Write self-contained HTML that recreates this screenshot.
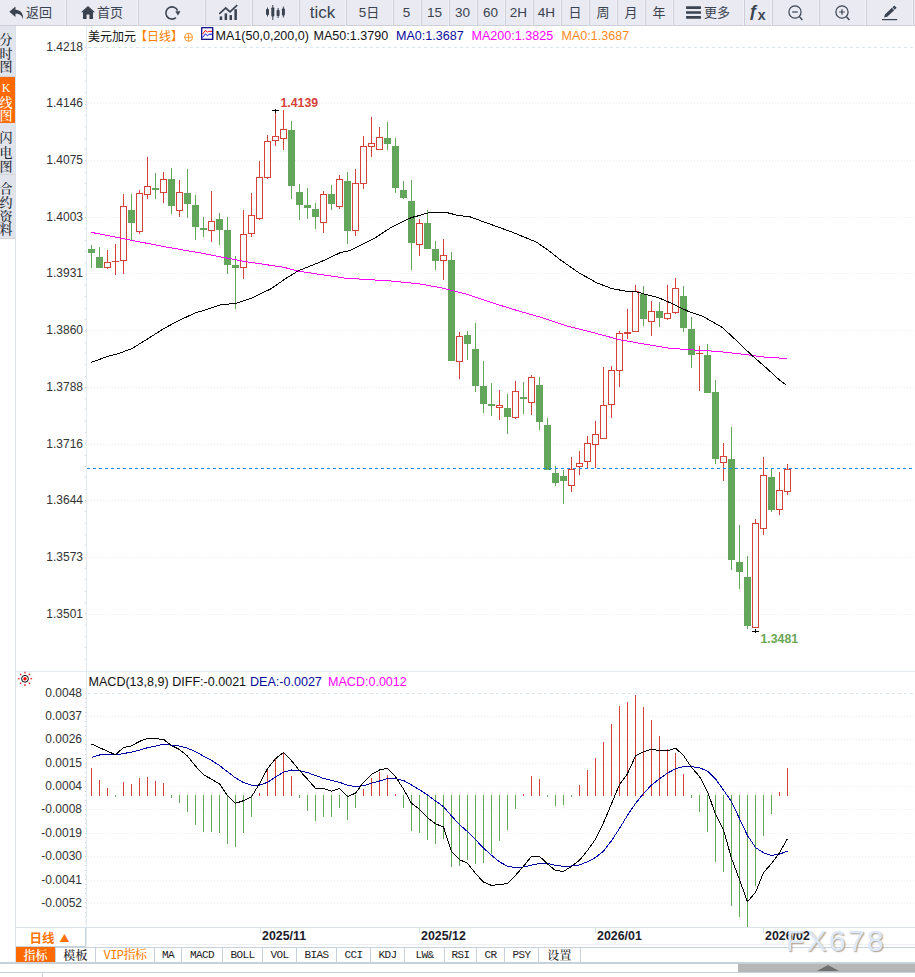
<!DOCTYPE html>
<html lang="zh"><head><meta charset="utf-8"><title>美元加元 日线</title>
<style>
html,body{margin:0;padding:0;background:#fff;}
body{width:915px;height:977px;position:relative;overflow:hidden;font-family:"Liberation Sans","Noto Sans CJK SC",sans-serif;}
#tb{position:absolute;left:0;top:0;width:915px;height:26px;background:#fff;overflow:hidden}
#tb .b{position:absolute;top:0;height:25px;padding-top:0;padding-bottom:0;background:#e9eaf2;border-left:1px solid #cdced8;border-right:1px solid #f1f2f7;border-bottom:1px solid #cdced8;display:flex;align-items:center;justify-content:center;color:#3b4350;font-size:13px;white-space:nowrap;box-sizing:content-box}
#tb .cj{font-family:"Noto Sans CJK SC",sans-serif;font-size:13px;line-height:24px;margin-left:1px;position:relative;top:-0.4px;left:-0.5px}
#tb .nm{font-size:13.5px;line-height:24px;position:relative;top:0px;left:-0.5px}
#tb .tk{font-size:17px;line-height:24px;position:relative;top:0.6px}
#tb .fx{font-family:"Liberation Sans",sans-serif;font-style:normal;font-weight:bold;font-size:17px;line-height:24px;position:relative;top:-0.5px;left:-0.5px}
#tb .fxx{font-family:"Liberation Sans",sans-serif;font-style:normal;font-weight:bold;font-size:14px;position:relative;top:2.5px;left:-0.5px}
#tb svg{display:block}
#sb{position:absolute;left:0;top:26px;width:15px;height:213px;background:#e2e4ec}
#sb .s{position:absolute;left:0;width:15px;top:0;border-bottom:1px solid #d2d4dc;box-sizing:border-box;color:#20242e;overflow:hidden;font-weight:500}
#sb .s i{position:absolute;left:-1.5px;width:15px;text-align:center;font-style:normal;font-size:13px;line-height:14px;font-family:"Noto Serif CJK SC",serif}
#sb .s i.k{font-family:"Liberation Serif",serif;font-size:12px}
#sb .on{background:#ff6a00;color:#fff;border-bottom:none}
#sb .s{margin-top:-26px}
#sbl{position:absolute;left:15px;top:26px;width:1px;height:937px;background:#dbe2ea}
#lg span,#ml span{position:absolute;white-space:nowrap;font-size:12.55px;line-height:16px}
#lg{position:absolute;left:0;top:28.2px;height:16px;width:915px}
#lg .cjl{font-family:"Noto Sans CJK SC",sans-serif;font-size:12px}
#ml{position:absolute;left:0;top:673.5px;height:16px;width:915px}
#chart{position:absolute;left:0;top:0}
#chart text.ax{font-family:"Liberation Sans",sans-serif;font-size:12px;fill:#333}
#chart text.hl{font-family:"Liberation Sans",sans-serif;font-size:12.3px;font-weight:bold}
#chart text.dt{font-family:"Liberation Sans",sans-serif;font-size:12.4px;font-weight:bold;fill:#1c1c2c}
#pd{position:absolute;left:16px;top:928px;width:69px;height:18px;border-right:1px solid #c8d2dc;border-bottom:1px solid #c8d2dc;background:#fff;color:#ff7200;font-weight:bold;font-size:12.5px;line-height:20px;text-align:left;text-indent:13.5px;font-family:"Noto Sans CJK SC",sans-serif}
#pd b{font-size:10px;position:relative;top:-1px;margin-left:5px}
.hl1{position:absolute;background:#dbe2ea;height:1px}
#bt{position:absolute;left:0;top:947px;width:915px;height:15px}
#bt .t{position:absolute;top:0;height:15px;border-right:1px solid #c8d2dc;text-align:center;font-size:11px;line-height:16px;color:#222;white-space:nowrap}
#bt .m{font-family:"Liberation Mono",monospace;font-size:11px;letter-spacing:-0.6px}
#bt .cj2{font-family:"Noto Serif CJK SC",serif;font-size:12px;line-height:16px;letter-spacing:0.3px;font-weight:500}
#bt .on{background:#ff6a00;color:#fff;font-family:"Noto Serif CJK SC",serif;font-size:12px;line-height:16px;font-weight:600}
#bt .vip{color:#ff7d00;font-family:"Liberation Mono","Noto Serif CJK SC",monospace;font-size:12px;line-height:18px;letter-spacing:-0.5px;font-weight:500}
#wm{position:absolute;left:786px;top:923px;font-size:30px;line-height:36px;letter-spacing:2.3px;color:#dce8f8;text-shadow:1px 1px 1.2px rgba(120,95,70,.6);font-family:"Liberation Sans",sans-serif}
#scr{position:absolute;left:738px;top:964px;width:177px;height:8px;background:#b6b6b9}
#scr:after{content:"";position:absolute;left:79px;top:1px;border-left:11.5px solid transparent;border-right:11.5px solid transparent;border-bottom:6.5px solid #707072}
</style></head><body>
<div id="tb">
<div class="b" style="left:0px;width:65px;border-left:none"><span style="display:flex;align-items:center;position:relative;left:-1.5px"><svg width="16.2" height="14" viewBox="0 0 15 13" style="position:relative;left:-0.5px"><path d="M6 0.5 L0.3 5.4 L6 10.3 V7.2 C9.6 7.1 11.8 8.3 13 12.2 C13.6 6.8 10.6 3.6 6 3.5 Z" fill="#3b4350"/></svg><span class="cj">返回</span></span></div>
<div class="b" style="left:66px;width:70px"><svg width="14" height="13" viewBox="0 0 14 13" style="position:relative;left:0.6px"><path d="M7 0 L0 6.3 H2 V13 H5.6 V8.6 H8.4 V13 H12 V6.3 H14 Z" fill="#3b4350"/></svg><span class="cj" style="margin-left:3px">首页</span></div>
<div class="b" style="left:138px;width:65px"><svg width="18" height="16" viewBox="0 0 18 16" style="position:relative;top:0.6px;left:0.6px"><path d="M12.9 12.7 A6.1 6.1 0 1 1 14.6 5.6" fill="none" stroke="#3b4350" stroke-width="1.6"/><path d="M12.3 6.2 L17.5 6.2 L14.9 10.6 Z" fill="#3b4350"/></svg></div>
<div class="b" style="left:205px;width:45px"><svg width="19" height="16" viewBox="0 0 19 16" style="position:relative;top:-1px"><path d="M0.3 10 L6.7 4 L11 7.8 L18.2 1.2" fill="none" stroke="#3b4350" stroke-width="1.7"/><rect x="0.7" y="12.4" width="2.5" height="3.6" fill="#3b4350"/><rect x="5.6" y="9.4" width="2.5" height="6.6" fill="#3b4350"/><rect x="10.5" y="11.1" width="2.5" height="4.9" fill="#3b4350"/><rect x="15.4" y="5.2" width="2.5" height="10.8" fill="#3b4350"/></svg></div>
<div class="b" style="left:252px;width:45px"><svg width="21" height="15" viewBox="0 0 21 15"><g fill="#3b4350"><rect x="1" y="4" width="3" height="6" rx="0.8"/><rect x="2" y="2.5" width="1" height="9"/><rect x="6.3" y="2.5" width="3" height="9" rx="0.8"/><rect x="7.3" y="0" width="1" height="15"/><rect x="11.6" y="5" width="3" height="6" rx="0.8"/><rect x="12.6" y="3" width="1" height="10"/><rect x="16.9" y="3.5" width="3" height="7" rx="0.8"/><rect x="17.9" y="1.5" width="1" height="11"/></g></svg></div>
<div class="b" style="left:299px;width:45px"><span class="tk">tick</span></div>
<div class="b" style="left:346px;width:45px"><span class="nm">5</span><span class="cj" style="margin-left:0">日</span></div>
<div class="b" style="left:393px;width:26px"><span class="nm">5</span></div>
<div class="b" style="left:421px;width:26px"><span class="nm">15</span></div>
<div class="b" style="left:449px;width:26px"><span class="nm">30</span></div>
<div class="b" style="left:477px;width:26px"><span class="nm">60</span></div>
<div class="b" style="left:505px;width:26px"><span class="nm">2H</span></div>
<div class="b" style="left:533px;width:26px"><span class="nm">4H</span></div>
<div class="b" style="left:561px;width:26px"><span class="cj">日</span></div>
<div class="b" style="left:589px;width:26px"><span class="cj">周</span></div>
<div class="b" style="left:617px;width:26px"><span class="cj">月</span></div>
<div class="b" style="left:645px;width:26px"><span class="cj">年</span></div>
<div class="b" style="left:673px;width:69px"><svg width="15" height="13" viewBox="0 0 15 13"><g fill="#3b4350"><rect x="0" y="0.3" width="15" height="2.6" rx="0.6"/><rect x="0" y="5.2" width="15" height="2.6" rx="0.6"/><rect x="0" y="10.1" width="15" height="2.6" rx="0.6"/></g></svg><span class="cj" style="margin-left:3px">更多</span></div>
<div class="b" style="left:744px;width:26px"><span class="fx">ƒ<span class="fxx">x</span></span></div>
<div class="b" style="left:772px;width:45px"><svg width="17" height="17" viewBox="0 0 17 17" style="position:relative;top:0.8px;left:1px"><circle cx="7" cy="7" r="6.1" fill="none" stroke="#3b4350" stroke-width="1.2"/><path d="M4.2 7H9.8" stroke="#3b4350" stroke-width="1.2" fill="none"/><path d="M11.4 11.6 L14.4 15" stroke="#3b4350" stroke-width="1.4"/></svg></div>
<div class="b" style="left:819px;width:45px"><svg width="17" height="17" viewBox="0 0 17 17" style="position:relative;top:0.8px;left:1px"><circle cx="7" cy="7" r="6.1" fill="none" stroke="#3b4350" stroke-width="1.2"/><path d="M4.2 7H9.8M7 4.2V9.8" stroke="#3b4350" stroke-width="1.2" fill="none"/><path d="M11.4 11.6 L14.4 15" stroke="#3b4350" stroke-width="1.4"/></svg></div>
<div class="b" style="left:866px;width:45px"><svg width="17" height="17" viewBox="0 0 17 17" style="position:relative;top:0px;left:1px"><path d="M2.1 13.5 L2.95 10.4 L9.9 3.8 L12.2 6.2 L5.2 12.8 Z M10.5 3.25 L12.4 1.45 L14.65 3.85 L12.75 5.65 Z" fill="#3b4350"/><rect x="0" y="15" width="15.2" height="1.2" fill="#3b4350"/></svg></div>
<div class="b" style="left:913px;width:45px"></div>
</div>
<div id="sb">
<div class="s" style="top:26px;height:51px"><i style="top:6px">分</i><i style="top:20px">时</i><i style="top:33px">图</i></div>
<div class="s on" style="top:77px;height:46px"><i style="top:4px" class="k">K</i><i style="top:18px">线</i><i style="top:31px">图</i></div>
<div class="s" style="top:123px;height:52px"><i style="top:7px">闪</i><i style="top:22px">电</i><i style="top:36px">图</i></div>
<div class="s" style="top:176px;height:63px"><i style="top:5px">合</i><i style="top:19px">约</i><i style="top:33px">资</i><i style="top:46px">料</i></div>
</div>
<div id="sbl"></div>
<svg id="chart" width="915" height="977" viewBox="0 0 915 977">
<line x1="88" x2="915" y1="47.5" y2="47.5" stroke="#d9e6f0" stroke-width="1" stroke-dasharray="3 3" shape-rendering="crispEdges"/>
<text x="83" y="50.9" class="ax" text-anchor="end">1.4218</text>
<line x1="88" x2="915" y1="103.5" y2="103.5" stroke="#ecedef" stroke-width="1" stroke-dasharray="1 2" shape-rendering="crispEdges"/>
<text x="83" y="106.9" class="ax" text-anchor="end">1.4146</text>
<line x1="88" x2="915" y1="160.5" y2="160.5" stroke="#ecedef" stroke-width="1" stroke-dasharray="1 2" shape-rendering="crispEdges"/>
<text x="83" y="163.9" class="ax" text-anchor="end">1.4075</text>
<line x1="88" x2="915" y1="217.5" y2="217.5" stroke="#ecedef" stroke-width="1" stroke-dasharray="1 2" shape-rendering="crispEdges"/>
<text x="83" y="220.9" class="ax" text-anchor="end">1.4003</text>
<line x1="88" x2="915" y1="273.5" y2="273.5" stroke="#ecedef" stroke-width="1" stroke-dasharray="1 2" shape-rendering="crispEdges"/>
<text x="83" y="276.9" class="ax" text-anchor="end">1.3931</text>
<line x1="88" x2="915" y1="330.5" y2="330.5" stroke="#ecedef" stroke-width="1" stroke-dasharray="1 2" shape-rendering="crispEdges"/>
<text x="83" y="333.9" class="ax" text-anchor="end">1.3860</text>
<line x1="88" x2="915" y1="387.5" y2="387.5" stroke="#ecedef" stroke-width="1" stroke-dasharray="1 2" shape-rendering="crispEdges"/>
<text x="83" y="390.9" class="ax" text-anchor="end">1.3788</text>
<line x1="88" x2="915" y1="444.5" y2="444.5" stroke="#ecedef" stroke-width="1" stroke-dasharray="1 2" shape-rendering="crispEdges"/>
<text x="83" y="447.9" class="ax" text-anchor="end">1.3716</text>
<line x1="88" x2="915" y1="500.5" y2="500.5" stroke="#ecedef" stroke-width="1" stroke-dasharray="1 2" shape-rendering="crispEdges"/>
<text x="83" y="503.9" class="ax" text-anchor="end">1.3644</text>
<line x1="88" x2="915" y1="557.5" y2="557.5" stroke="#ecedef" stroke-width="1" stroke-dasharray="1 2" shape-rendering="crispEdges"/>
<text x="83" y="560.9" class="ax" text-anchor="end">1.3573</text>
<line x1="88" x2="915" y1="614.5" y2="614.5" stroke="#ecedef" stroke-width="1" stroke-dasharray="1 2" shape-rendering="crispEdges"/>
<text x="83" y="617.9" class="ax" text-anchor="end">1.3501</text>
<line x1="86.5" x2="86.5" y1="26" y2="947" stroke="#e3e9f0" shape-rendering="crispEdges"/>
<line x1="85" x2="86" y1="47.5" y2="47.5" stroke="#cdd5df" shape-rendering="crispEdges"/>
<line x1="85" x2="86" y1="58.5" y2="58.5" stroke="#cdd5df" shape-rendering="crispEdges"/>
<line x1="85" x2="86" y1="70.5" y2="70.5" stroke="#cdd5df" shape-rendering="crispEdges"/>
<line x1="85" x2="86" y1="81.5" y2="81.5" stroke="#cdd5df" shape-rendering="crispEdges"/>
<line x1="85" x2="86" y1="92.5" y2="92.5" stroke="#cdd5df" shape-rendering="crispEdges"/>
<line x1="85" x2="86" y1="104.5" y2="104.5" stroke="#cdd5df" shape-rendering="crispEdges"/>
<line x1="85" x2="86" y1="115.5" y2="115.5" stroke="#cdd5df" shape-rendering="crispEdges"/>
<line x1="85" x2="86" y1="126.5" y2="126.5" stroke="#cdd5df" shape-rendering="crispEdges"/>
<line x1="85" x2="86" y1="138.5" y2="138.5" stroke="#cdd5df" shape-rendering="crispEdges"/>
<line x1="85" x2="86" y1="149.5" y2="149.5" stroke="#cdd5df" shape-rendering="crispEdges"/>
<line x1="85" x2="86" y1="160.5" y2="160.5" stroke="#cdd5df" shape-rendering="crispEdges"/>
<line x1="85" x2="86" y1="172.5" y2="172.5" stroke="#cdd5df" shape-rendering="crispEdges"/>
<line x1="85" x2="86" y1="183.5" y2="183.5" stroke="#cdd5df" shape-rendering="crispEdges"/>
<line x1="85" x2="86" y1="194.5" y2="194.5" stroke="#cdd5df" shape-rendering="crispEdges"/>
<line x1="85" x2="86" y1="206.5" y2="206.5" stroke="#cdd5df" shape-rendering="crispEdges"/>
<line x1="85" x2="86" y1="217.5" y2="217.5" stroke="#cdd5df" shape-rendering="crispEdges"/>
<line x1="85" x2="86" y1="228.5" y2="228.5" stroke="#cdd5df" shape-rendering="crispEdges"/>
<line x1="85" x2="86" y1="240.5" y2="240.5" stroke="#cdd5df" shape-rendering="crispEdges"/>
<line x1="85" x2="86" y1="251.5" y2="251.5" stroke="#cdd5df" shape-rendering="crispEdges"/>
<line x1="85" x2="86" y1="262.5" y2="262.5" stroke="#cdd5df" shape-rendering="crispEdges"/>
<line x1="85" x2="86" y1="274.5" y2="274.5" stroke="#cdd5df" shape-rendering="crispEdges"/>
<line x1="85" x2="86" y1="285.5" y2="285.5" stroke="#cdd5df" shape-rendering="crispEdges"/>
<line x1="85" x2="86" y1="296.5" y2="296.5" stroke="#cdd5df" shape-rendering="crispEdges"/>
<line x1="85" x2="86" y1="308.5" y2="308.5" stroke="#cdd5df" shape-rendering="crispEdges"/>
<line x1="85" x2="86" y1="319.5" y2="319.5" stroke="#cdd5df" shape-rendering="crispEdges"/>
<line x1="85" x2="86" y1="330.5" y2="330.5" stroke="#cdd5df" shape-rendering="crispEdges"/>
<line x1="85" x2="86" y1="342.5" y2="342.5" stroke="#cdd5df" shape-rendering="crispEdges"/>
<line x1="85" x2="86" y1="353.5" y2="353.5" stroke="#cdd5df" shape-rendering="crispEdges"/>
<line x1="85" x2="86" y1="364.5" y2="364.5" stroke="#cdd5df" shape-rendering="crispEdges"/>
<line x1="85" x2="86" y1="376.5" y2="376.5" stroke="#cdd5df" shape-rendering="crispEdges"/>
<line x1="85" x2="86" y1="387.5" y2="387.5" stroke="#cdd5df" shape-rendering="crispEdges"/>
<line x1="85" x2="86" y1="398.5" y2="398.5" stroke="#cdd5df" shape-rendering="crispEdges"/>
<line x1="85" x2="86" y1="409.5" y2="409.5" stroke="#cdd5df" shape-rendering="crispEdges"/>
<line x1="85" x2="86" y1="421.5" y2="421.5" stroke="#cdd5df" shape-rendering="crispEdges"/>
<line x1="85" x2="86" y1="432.5" y2="432.5" stroke="#cdd5df" shape-rendering="crispEdges"/>
<line x1="85" x2="86" y1="443.5" y2="443.5" stroke="#cdd5df" shape-rendering="crispEdges"/>
<line x1="85" x2="86" y1="455.5" y2="455.5" stroke="#cdd5df" shape-rendering="crispEdges"/>
<line x1="85" x2="86" y1="466.5" y2="466.5" stroke="#cdd5df" shape-rendering="crispEdges"/>
<line x1="85" x2="86" y1="477.5" y2="477.5" stroke="#cdd5df" shape-rendering="crispEdges"/>
<line x1="85" x2="86" y1="489.5" y2="489.5" stroke="#cdd5df" shape-rendering="crispEdges"/>
<line x1="85" x2="86" y1="500.5" y2="500.5" stroke="#cdd5df" shape-rendering="crispEdges"/>
<line x1="85" x2="86" y1="511.5" y2="511.5" stroke="#cdd5df" shape-rendering="crispEdges"/>
<line x1="85" x2="86" y1="523.5" y2="523.5" stroke="#cdd5df" shape-rendering="crispEdges"/>
<line x1="85" x2="86" y1="534.5" y2="534.5" stroke="#cdd5df" shape-rendering="crispEdges"/>
<line x1="85" x2="86" y1="545.5" y2="545.5" stroke="#cdd5df" shape-rendering="crispEdges"/>
<line x1="85" x2="86" y1="557.5" y2="557.5" stroke="#cdd5df" shape-rendering="crispEdges"/>
<line x1="85" x2="86" y1="568.5" y2="568.5" stroke="#cdd5df" shape-rendering="crispEdges"/>
<line x1="85" x2="86" y1="579.5" y2="579.5" stroke="#cdd5df" shape-rendering="crispEdges"/>
<line x1="85" x2="86" y1="591.5" y2="591.5" stroke="#cdd5df" shape-rendering="crispEdges"/>
<line x1="85" x2="86" y1="602.5" y2="602.5" stroke="#cdd5df" shape-rendering="crispEdges"/>
<line x1="85" x2="86" y1="613.5" y2="613.5" stroke="#cdd5df" shape-rendering="crispEdges"/>
<line x1="85" x2="86" y1="625.5" y2="625.5" stroke="#cdd5df" shape-rendering="crispEdges"/>
<line x1="85" x2="86" y1="636.5" y2="636.5" stroke="#cdd5df" shape-rendering="crispEdges"/>
<line x1="85" x2="86" y1="647.5" y2="647.5" stroke="#cdd5df" shape-rendering="crispEdges"/>
<line x1="85" x2="86" y1="659.5" y2="659.5" stroke="#cdd5df" shape-rendering="crispEdges"/>
<line x1="16" x2="915" y1="671.5" y2="671.5" stroke="#e3e9f0" shape-rendering="crispEdges"/>
<line x1="88" x2="915" y1="693.5" y2="693.5" stroke="#d9e6f0" stroke-width="1" stroke-dasharray="3 3" shape-rendering="crispEdges"/>
<text x="82" y="696.9" class="ax" text-anchor="end">0.0048</text>
<line x1="88" x2="915" y1="716.5" y2="716.5" stroke="#ecedef" stroke-width="1" stroke-dasharray="1 2" shape-rendering="crispEdges"/>
<text x="82" y="719.9" class="ax" text-anchor="end">0.0037</text>
<line x1="88" x2="915" y1="739.5" y2="739.5" stroke="#ecedef" stroke-width="1" stroke-dasharray="1 2" shape-rendering="crispEdges"/>
<text x="82" y="742.9" class="ax" text-anchor="end">0.0026</text>
<line x1="88" x2="915" y1="763.5" y2="763.5" stroke="#ecedef" stroke-width="1" stroke-dasharray="1 2" shape-rendering="crispEdges"/>
<text x="82" y="766.9" class="ax" text-anchor="end">0.0015</text>
<line x1="88" x2="915" y1="786.5" y2="786.5" stroke="#ecedef" stroke-width="1" stroke-dasharray="1 2" shape-rendering="crispEdges"/>
<text x="82" y="789.9" class="ax" text-anchor="end">0.0004</text>
<line x1="88" x2="915" y1="809.5" y2="809.5" stroke="#ecedef" stroke-width="1" stroke-dasharray="1 2" shape-rendering="crispEdges"/>
<text x="82" y="812.9" class="ax" text-anchor="end">-0.0008</text>
<line x1="88" x2="915" y1="833.5" y2="833.5" stroke="#ecedef" stroke-width="1" stroke-dasharray="1 2" shape-rendering="crispEdges"/>
<text x="82" y="836.9" class="ax" text-anchor="end">-0.0019</text>
<line x1="88" x2="915" y1="856.5" y2="856.5" stroke="#ecedef" stroke-width="1" stroke-dasharray="1 2" shape-rendering="crispEdges"/>
<text x="82" y="859.9" class="ax" text-anchor="end">-0.0030</text>
<line x1="88" x2="915" y1="880.5" y2="880.5" stroke="#ecedef" stroke-width="1" stroke-dasharray="1 2" shape-rendering="crispEdges"/>
<text x="82" y="883.9" class="ax" text-anchor="end">-0.0041</text>
<line x1="88" x2="915" y1="903.5" y2="903.5" stroke="#ecedef" stroke-width="1" stroke-dasharray="1 2" shape-rendering="crispEdges"/>
<text x="82" y="906.9" class="ax" text-anchor="end">-0.0052</text>
<line x1="85" x2="86" y1="693.5" y2="693.5" stroke="#cdd5df" shape-rendering="crispEdges"/>
<line x1="85" x2="86" y1="698.5" y2="698.5" stroke="#cdd5df" shape-rendering="crispEdges"/>
<line x1="85" x2="86" y1="702.5" y2="702.5" stroke="#cdd5df" shape-rendering="crispEdges"/>
<line x1="85" x2="86" y1="707.5" y2="707.5" stroke="#cdd5df" shape-rendering="crispEdges"/>
<line x1="85" x2="86" y1="712.5" y2="712.5" stroke="#cdd5df" shape-rendering="crispEdges"/>
<line x1="85" x2="86" y1="716.5" y2="716.5" stroke="#cdd5df" shape-rendering="crispEdges"/>
<line x1="85" x2="86" y1="721.5" y2="721.5" stroke="#cdd5df" shape-rendering="crispEdges"/>
<line x1="85" x2="86" y1="726.5" y2="726.5" stroke="#cdd5df" shape-rendering="crispEdges"/>
<line x1="85" x2="86" y1="730.5" y2="730.5" stroke="#cdd5df" shape-rendering="crispEdges"/>
<line x1="85" x2="86" y1="735.5" y2="735.5" stroke="#cdd5df" shape-rendering="crispEdges"/>
<line x1="85" x2="86" y1="740.5" y2="740.5" stroke="#cdd5df" shape-rendering="crispEdges"/>
<line x1="85" x2="86" y1="744.5" y2="744.5" stroke="#cdd5df" shape-rendering="crispEdges"/>
<line x1="85" x2="86" y1="749.5" y2="749.5" stroke="#cdd5df" shape-rendering="crispEdges"/>
<line x1="85" x2="86" y1="754.5" y2="754.5" stroke="#cdd5df" shape-rendering="crispEdges"/>
<line x1="85" x2="86" y1="758.5" y2="758.5" stroke="#cdd5df" shape-rendering="crispEdges"/>
<line x1="85" x2="86" y1="763.5" y2="763.5" stroke="#cdd5df" shape-rendering="crispEdges"/>
<line x1="85" x2="86" y1="767.5" y2="767.5" stroke="#cdd5df" shape-rendering="crispEdges"/>
<line x1="85" x2="86" y1="772.5" y2="772.5" stroke="#cdd5df" shape-rendering="crispEdges"/>
<line x1="85" x2="86" y1="777.5" y2="777.5" stroke="#cdd5df" shape-rendering="crispEdges"/>
<line x1="85" x2="86" y1="781.5" y2="781.5" stroke="#cdd5df" shape-rendering="crispEdges"/>
<line x1="85" x2="86" y1="786.5" y2="786.5" stroke="#cdd5df" shape-rendering="crispEdges"/>
<line x1="85" x2="86" y1="791.5" y2="791.5" stroke="#cdd5df" shape-rendering="crispEdges"/>
<line x1="85" x2="86" y1="795.5" y2="795.5" stroke="#cdd5df" shape-rendering="crispEdges"/>
<line x1="85" x2="86" y1="800.5" y2="800.5" stroke="#cdd5df" shape-rendering="crispEdges"/>
<line x1="85" x2="86" y1="805.5" y2="805.5" stroke="#cdd5df" shape-rendering="crispEdges"/>
<line x1="85" x2="86" y1="809.5" y2="809.5" stroke="#cdd5df" shape-rendering="crispEdges"/>
<line x1="85" x2="86" y1="814.5" y2="814.5" stroke="#cdd5df" shape-rendering="crispEdges"/>
<line x1="85" x2="86" y1="819.5" y2="819.5" stroke="#cdd5df" shape-rendering="crispEdges"/>
<line x1="85" x2="86" y1="823.5" y2="823.5" stroke="#cdd5df" shape-rendering="crispEdges"/>
<line x1="85" x2="86" y1="828.5" y2="828.5" stroke="#cdd5df" shape-rendering="crispEdges"/>
<line x1="85" x2="86" y1="833.5" y2="833.5" stroke="#cdd5df" shape-rendering="crispEdges"/>
<line x1="85" x2="86" y1="837.5" y2="837.5" stroke="#cdd5df" shape-rendering="crispEdges"/>
<line x1="85" x2="86" y1="842.5" y2="842.5" stroke="#cdd5df" shape-rendering="crispEdges"/>
<line x1="85" x2="86" y1="847.5" y2="847.5" stroke="#cdd5df" shape-rendering="crispEdges"/>
<line x1="85" x2="86" y1="851.5" y2="851.5" stroke="#cdd5df" shape-rendering="crispEdges"/>
<line x1="85" x2="86" y1="856.5" y2="856.5" stroke="#cdd5df" shape-rendering="crispEdges"/>
<line x1="85" x2="86" y1="861.5" y2="861.5" stroke="#cdd5df" shape-rendering="crispEdges"/>
<line x1="85" x2="86" y1="865.5" y2="865.5" stroke="#cdd5df" shape-rendering="crispEdges"/>
<line x1="85" x2="86" y1="870.5" y2="870.5" stroke="#cdd5df" shape-rendering="crispEdges"/>
<line x1="85" x2="86" y1="875.5" y2="875.5" stroke="#cdd5df" shape-rendering="crispEdges"/>
<line x1="85" x2="86" y1="879.5" y2="879.5" stroke="#cdd5df" shape-rendering="crispEdges"/>
<line x1="85" x2="86" y1="884.5" y2="884.5" stroke="#cdd5df" shape-rendering="crispEdges"/>
<line x1="85" x2="86" y1="888.5" y2="888.5" stroke="#cdd5df" shape-rendering="crispEdges"/>
<line x1="85" x2="86" y1="893.5" y2="893.5" stroke="#cdd5df" shape-rendering="crispEdges"/>
<line x1="85" x2="86" y1="898.5" y2="898.5" stroke="#cdd5df" shape-rendering="crispEdges"/>
<line x1="85" x2="86" y1="902.5" y2="902.5" stroke="#cdd5df" shape-rendering="crispEdges"/>
<line x1="85" x2="86" y1="907.5" y2="907.5" stroke="#cdd5df" shape-rendering="crispEdges"/>
<line x1="85" x2="86" y1="912.5" y2="912.5" stroke="#cdd5df" shape-rendering="crispEdges"/>
<line x1="85" x2="86" y1="916.5" y2="916.5" stroke="#cdd5df" shape-rendering="crispEdges"/>
<line x1="85" x2="86" y1="921.5" y2="921.5" stroke="#cdd5df" shape-rendering="crispEdges"/>
<line x1="91.5" x2="91.5" y1="245" y2="268" stroke="#63a55b" shape-rendering="crispEdges"/>
<rect x="88.0" y="249" width="7" height="4" fill="#63a55b" shape-rendering="crispEdges"/>
<line x1="99.5" x2="99.5" y1="247" y2="268" stroke="#63a55b" shape-rendering="crispEdges"/>
<rect x="96.0" y="257" width="7" height="11" fill="#63a55b" shape-rendering="crispEdges"/>
<line x1="107.5" x2="107.5" y1="250" y2="262" stroke="#d6423a" shape-rendering="crispEdges"/>
<line x1="107.5" x2="107.5" y1="268" y2="269" stroke="#d6423a" shape-rendering="crispEdges"/>
<rect x="104.5" y="262.5" width="6" height="5" fill="#fff" stroke="#d6423a" stroke-width="1" shape-rendering="crispEdges"/>
<line x1="115.5" x2="115.5" y1="244" y2="261" stroke="#d6423a" shape-rendering="crispEdges"/>
<line x1="115.5" x2="115.5" y1="262" y2="275" stroke="#d6423a" shape-rendering="crispEdges"/>
<rect x="112.0" y="261" width="7" height="1" fill="#d6423a" shape-rendering="crispEdges"/>
<line x1="123.5" x2="123.5" y1="194" y2="206" stroke="#d6423a" shape-rendering="crispEdges"/>
<line x1="123.5" x2="123.5" y1="261" y2="274" stroke="#d6423a" shape-rendering="crispEdges"/>
<rect x="120.5" y="206.5" width="6" height="54" fill="#fff" stroke="#d6423a" stroke-width="1" shape-rendering="crispEdges"/>
<line x1="131.5" x2="131.5" y1="194" y2="240" stroke="#63a55b" shape-rendering="crispEdges"/>
<rect x="128.0" y="210" width="7" height="13" fill="#63a55b" shape-rendering="crispEdges"/>
<line x1="139.5" x2="139.5" y1="190" y2="193" stroke="#d6423a" shape-rendering="crispEdges"/>
<line x1="139.5" x2="139.5" y1="232" y2="234" stroke="#d6423a" shape-rendering="crispEdges"/>
<rect x="136.5" y="193.5" width="6" height="38" fill="#fff" stroke="#d6423a" stroke-width="1" shape-rendering="crispEdges"/>
<line x1="147.5" x2="147.5" y1="157" y2="186" stroke="#d6423a" shape-rendering="crispEdges"/>
<line x1="147.5" x2="147.5" y1="195" y2="199" stroke="#d6423a" shape-rendering="crispEdges"/>
<rect x="144.5" y="186.5" width="6" height="8" fill="#fff" stroke="#d6423a" stroke-width="1" shape-rendering="crispEdges"/>
<line x1="155.5" x2="155.5" y1="173" y2="199" stroke="#63a55b" shape-rendering="crispEdges"/>
<rect x="152.0" y="188" width="7" height="2" fill="#63a55b" shape-rendering="crispEdges"/>
<line x1="163.5" x2="163.5" y1="172" y2="179" stroke="#d6423a" shape-rendering="crispEdges"/>
<line x1="163.5" x2="163.5" y1="193" y2="203" stroke="#d6423a" shape-rendering="crispEdges"/>
<rect x="160.5" y="179.5" width="6" height="13" fill="#fff" stroke="#d6423a" stroke-width="1" shape-rendering="crispEdges"/>
<line x1="171.5" x2="171.5" y1="168" y2="214" stroke="#63a55b" shape-rendering="crispEdges"/>
<rect x="168.0" y="179" width="7" height="27" fill="#63a55b" shape-rendering="crispEdges"/>
<line x1="179.5" x2="179.5" y1="180" y2="192" stroke="#d6423a" shape-rendering="crispEdges"/>
<line x1="179.5" x2="179.5" y1="211" y2="217" stroke="#d6423a" shape-rendering="crispEdges"/>
<rect x="176.5" y="192.5" width="6" height="18" fill="#fff" stroke="#d6423a" stroke-width="1" shape-rendering="crispEdges"/>
<line x1="187.5" x2="187.5" y1="169" y2="218" stroke="#63a55b" shape-rendering="crispEdges"/>
<rect x="184.0" y="193" width="7" height="11" fill="#63a55b" shape-rendering="crispEdges"/>
<line x1="195.5" x2="195.5" y1="195" y2="240" stroke="#63a55b" shape-rendering="crispEdges"/>
<rect x="192.0" y="205" width="7" height="22" fill="#63a55b" shape-rendering="crispEdges"/>
<line x1="203.5" x2="203.5" y1="217" y2="237" stroke="#63a55b" shape-rendering="crispEdges"/>
<rect x="200.0" y="228" width="7" height="2" fill="#63a55b" shape-rendering="crispEdges"/>
<line x1="211.5" x2="211.5" y1="191" y2="221" stroke="#d6423a" shape-rendering="crispEdges"/>
<line x1="211.5" x2="211.5" y1="231" y2="242" stroke="#d6423a" shape-rendering="crispEdges"/>
<rect x="208.5" y="221.5" width="6" height="9" fill="#fff" stroke="#d6423a" stroke-width="1" shape-rendering="crispEdges"/>
<line x1="219.5" x2="219.5" y1="213" y2="245" stroke="#63a55b" shape-rendering="crispEdges"/>
<rect x="216.0" y="219" width="7" height="11" fill="#63a55b" shape-rendering="crispEdges"/>
<line x1="227.5" x2="227.5" y1="217" y2="274" stroke="#63a55b" shape-rendering="crispEdges"/>
<rect x="224.0" y="230" width="7" height="35" fill="#63a55b" shape-rendering="crispEdges"/>
<line x1="235.5" x2="235.5" y1="256" y2="309" stroke="#63a55b" shape-rendering="crispEdges"/>
<rect x="232.0" y="265" width="7" height="3" fill="#63a55b" shape-rendering="crispEdges"/>
<line x1="243.5" x2="243.5" y1="210" y2="234" stroke="#d6423a" shape-rendering="crispEdges"/>
<line x1="243.5" x2="243.5" y1="268" y2="279" stroke="#d6423a" shape-rendering="crispEdges"/>
<rect x="240.5" y="234.5" width="6" height="33" fill="#fff" stroke="#d6423a" stroke-width="1" shape-rendering="crispEdges"/>
<line x1="251.5" x2="251.5" y1="193" y2="215" stroke="#d6423a" shape-rendering="crispEdges"/>
<line x1="251.5" x2="251.5" y1="234" y2="237" stroke="#d6423a" shape-rendering="crispEdges"/>
<rect x="248.5" y="215.5" width="6" height="18" fill="#fff" stroke="#d6423a" stroke-width="1" shape-rendering="crispEdges"/>
<line x1="259.5" x2="259.5" y1="161" y2="177" stroke="#d6423a" shape-rendering="crispEdges"/>
<line x1="259.5" x2="259.5" y1="219" y2="220" stroke="#d6423a" shape-rendering="crispEdges"/>
<rect x="256.5" y="177.5" width="6" height="41" fill="#fff" stroke="#d6423a" stroke-width="1" shape-rendering="crispEdges"/>
<line x1="267.5" x2="267.5" y1="135" y2="141" stroke="#d6423a" shape-rendering="crispEdges"/>
<line x1="267.5" x2="267.5" y1="178" y2="179" stroke="#d6423a" shape-rendering="crispEdges"/>
<rect x="264.5" y="141.5" width="6" height="36" fill="#fff" stroke="#d6423a" stroke-width="1" shape-rendering="crispEdges"/>
<line x1="275.5" x2="275.5" y1="111" y2="136" stroke="#d6423a" shape-rendering="crispEdges"/>
<line x1="275.5" x2="275.5" y1="141" y2="146" stroke="#d6423a" shape-rendering="crispEdges"/>
<rect x="272.5" y="136.5" width="6" height="4" fill="#fff" stroke="#d6423a" stroke-width="1" shape-rendering="crispEdges"/>
<line x1="283.5" x2="283.5" y1="110" y2="129" stroke="#d6423a" shape-rendering="crispEdges"/>
<line x1="283.5" x2="283.5" y1="139" y2="150" stroke="#d6423a" shape-rendering="crispEdges"/>
<rect x="280.5" y="129.5" width="6" height="9" fill="#fff" stroke="#d6423a" stroke-width="1" shape-rendering="crispEdges"/>
<line x1="291.5" x2="291.5" y1="121" y2="199" stroke="#63a55b" shape-rendering="crispEdges"/>
<rect x="288.0" y="130" width="7" height="56" fill="#63a55b" shape-rendering="crispEdges"/>
<line x1="299.5" x2="299.5" y1="184" y2="220" stroke="#63a55b" shape-rendering="crispEdges"/>
<rect x="296.0" y="192" width="7" height="13" fill="#63a55b" shape-rendering="crispEdges"/>
<line x1="307.5" x2="307.5" y1="188" y2="219" stroke="#63a55b" shape-rendering="crispEdges"/>
<rect x="304.0" y="205" width="7" height="3" fill="#63a55b" shape-rendering="crispEdges"/>
<line x1="315.5" x2="315.5" y1="203" y2="229" stroke="#63a55b" shape-rendering="crispEdges"/>
<rect x="312.0" y="209" width="7" height="8" fill="#63a55b" shape-rendering="crispEdges"/>
<line x1="323.5" x2="323.5" y1="191" y2="194" stroke="#d6423a" shape-rendering="crispEdges"/>
<line x1="323.5" x2="323.5" y1="223" y2="233" stroke="#d6423a" shape-rendering="crispEdges"/>
<rect x="320.5" y="194.5" width="6" height="28" fill="#fff" stroke="#d6423a" stroke-width="1" shape-rendering="crispEdges"/>
<line x1="331.5" x2="331.5" y1="185" y2="210" stroke="#63a55b" shape-rendering="crispEdges"/>
<rect x="328.0" y="194" width="7" height="10" fill="#63a55b" shape-rendering="crispEdges"/>
<line x1="339.5" x2="339.5" y1="175" y2="179" stroke="#d6423a" shape-rendering="crispEdges"/>
<line x1="339.5" x2="339.5" y1="207" y2="209" stroke="#d6423a" shape-rendering="crispEdges"/>
<rect x="336.5" y="179.5" width="6" height="27" fill="#fff" stroke="#d6423a" stroke-width="1" shape-rendering="crispEdges"/>
<line x1="347.5" x2="347.5" y1="172" y2="244" stroke="#63a55b" shape-rendering="crispEdges"/>
<rect x="344.0" y="181" width="7" height="50" fill="#63a55b" shape-rendering="crispEdges"/>
<line x1="355.5" x2="355.5" y1="169" y2="183" stroke="#d6423a" shape-rendering="crispEdges"/>
<line x1="355.5" x2="355.5" y1="231" y2="236" stroke="#d6423a" shape-rendering="crispEdges"/>
<rect x="352.5" y="183.5" width="6" height="47" fill="#fff" stroke="#d6423a" stroke-width="1" shape-rendering="crispEdges"/>
<line x1="363.5" x2="363.5" y1="136" y2="146" stroke="#d6423a" shape-rendering="crispEdges"/>
<line x1="363.5" x2="363.5" y1="184" y2="189" stroke="#d6423a" shape-rendering="crispEdges"/>
<rect x="360.5" y="146.5" width="6" height="37" fill="#fff" stroke="#d6423a" stroke-width="1" shape-rendering="crispEdges"/>
<line x1="371.5" x2="371.5" y1="117" y2="143" stroke="#d6423a" shape-rendering="crispEdges"/>
<line x1="371.5" x2="371.5" y1="147" y2="157" stroke="#d6423a" shape-rendering="crispEdges"/>
<rect x="368.5" y="143.5" width="6" height="3" fill="#fff" stroke="#d6423a" stroke-width="1" shape-rendering="crispEdges"/>
<line x1="379.5" x2="379.5" y1="127" y2="137" stroke="#d6423a" shape-rendering="crispEdges"/>
<rect x="376.5" y="137.5" width="6" height="12" fill="#fff" stroke="#d6423a" stroke-width="1" shape-rendering="crispEdges"/>
<line x1="387.5" x2="387.5" y1="122" y2="150" stroke="#63a55b" shape-rendering="crispEdges"/>
<rect x="384.0" y="138" width="7" height="6" fill="#63a55b" shape-rendering="crispEdges"/>
<line x1="395.5" x2="395.5" y1="138" y2="193" stroke="#63a55b" shape-rendering="crispEdges"/>
<rect x="392.0" y="146" width="7" height="42" fill="#63a55b" shape-rendering="crispEdges"/>
<line x1="403.5" x2="403.5" y1="181" y2="199" stroke="#63a55b" shape-rendering="crispEdges"/>
<rect x="400.0" y="190" width="7" height="8" fill="#63a55b" shape-rendering="crispEdges"/>
<line x1="411.5" x2="411.5" y1="180" y2="270" stroke="#63a55b" shape-rendering="crispEdges"/>
<rect x="408.0" y="201" width="7" height="42" fill="#63a55b" shape-rendering="crispEdges"/>
<line x1="419.5" x2="419.5" y1="219" y2="223" stroke="#d6423a" shape-rendering="crispEdges"/>
<line x1="419.5" x2="419.5" y1="245" y2="256" stroke="#d6423a" shape-rendering="crispEdges"/>
<rect x="416.5" y="223.5" width="6" height="21" fill="#fff" stroke="#d6423a" stroke-width="1" shape-rendering="crispEdges"/>
<line x1="427.5" x2="427.5" y1="210" y2="249" stroke="#63a55b" shape-rendering="crispEdges"/>
<rect x="424.0" y="223" width="7" height="26" fill="#63a55b" shape-rendering="crispEdges"/>
<line x1="435.5" x2="435.5" y1="241" y2="270" stroke="#63a55b" shape-rendering="crispEdges"/>
<rect x="432.0" y="249" width="7" height="12" fill="#63a55b" shape-rendering="crispEdges"/>
<line x1="443.5" x2="443.5" y1="239" y2="255" stroke="#d6423a" shape-rendering="crispEdges"/>
<line x1="443.5" x2="443.5" y1="261" y2="280" stroke="#d6423a" shape-rendering="crispEdges"/>
<rect x="440.5" y="255.5" width="6" height="5" fill="#fff" stroke="#d6423a" stroke-width="1" shape-rendering="crispEdges"/>
<line x1="451.5" x2="451.5" y1="252" y2="361" stroke="#63a55b" shape-rendering="crispEdges"/>
<rect x="448.0" y="260" width="7" height="101" fill="#63a55b" shape-rendering="crispEdges"/>
<line x1="459.5" x2="459.5" y1="332" y2="336" stroke="#d6423a" shape-rendering="crispEdges"/>
<line x1="459.5" x2="459.5" y1="362" y2="379" stroke="#d6423a" shape-rendering="crispEdges"/>
<rect x="456.5" y="336.5" width="6" height="25" fill="#fff" stroke="#d6423a" stroke-width="1" shape-rendering="crispEdges"/>
<line x1="467.5" x2="467.5" y1="331" y2="360" stroke="#63a55b" shape-rendering="crispEdges"/>
<rect x="464.0" y="335" width="7" height="9" fill="#63a55b" shape-rendering="crispEdges"/>
<line x1="475.5" x2="475.5" y1="323" y2="392" stroke="#63a55b" shape-rendering="crispEdges"/>
<rect x="472.0" y="349" width="7" height="37" fill="#63a55b" shape-rendering="crispEdges"/>
<line x1="483.5" x2="483.5" y1="361" y2="413" stroke="#63a55b" shape-rendering="crispEdges"/>
<rect x="480.0" y="386" width="7" height="18" fill="#63a55b" shape-rendering="crispEdges"/>
<line x1="491.5" x2="491.5" y1="383" y2="416" stroke="#63a55b" shape-rendering="crispEdges"/>
<rect x="488.0" y="404" width="7" height="2" fill="#63a55b" shape-rendering="crispEdges"/>
<line x1="499.5" x2="499.5" y1="390" y2="405" stroke="#d6423a" shape-rendering="crispEdges"/>
<line x1="499.5" x2="499.5" y1="408" y2="420" stroke="#d6423a" shape-rendering="crispEdges"/>
<rect x="496.5" y="405.5" width="6" height="2" fill="#fff" stroke="#d6423a" stroke-width="1" shape-rendering="crispEdges"/>
<line x1="507.5" x2="507.5" y1="394" y2="434" stroke="#63a55b" shape-rendering="crispEdges"/>
<rect x="504.0" y="408" width="7" height="9" fill="#63a55b" shape-rendering="crispEdges"/>
<line x1="515.5" x2="515.5" y1="381" y2="391" stroke="#d6423a" shape-rendering="crispEdges"/>
<line x1="515.5" x2="515.5" y1="418" y2="419" stroke="#d6423a" shape-rendering="crispEdges"/>
<rect x="512.5" y="391.5" width="6" height="26" fill="#fff" stroke="#d6423a" stroke-width="1" shape-rendering="crispEdges"/>
<line x1="523.5" x2="523.5" y1="382" y2="414" stroke="#63a55b" shape-rendering="crispEdges"/>
<rect x="520.0" y="397" width="7" height="2" fill="#63a55b" shape-rendering="crispEdges"/>
<line x1="531.5" x2="531.5" y1="375" y2="377" stroke="#d6423a" shape-rendering="crispEdges"/>
<line x1="531.5" x2="531.5" y1="403" y2="415" stroke="#d6423a" shape-rendering="crispEdges"/>
<rect x="528.5" y="377.5" width="6" height="25" fill="#fff" stroke="#d6423a" stroke-width="1" shape-rendering="crispEdges"/>
<line x1="539.5" x2="539.5" y1="377" y2="430" stroke="#63a55b" shape-rendering="crispEdges"/>
<rect x="536.0" y="385" width="7" height="37" fill="#63a55b" shape-rendering="crispEdges"/>
<line x1="547.5" x2="547.5" y1="418" y2="470" stroke="#63a55b" shape-rendering="crispEdges"/>
<rect x="544.0" y="425" width="7" height="45" fill="#63a55b" shape-rendering="crispEdges"/>
<line x1="555.5" x2="555.5" y1="466" y2="486" stroke="#63a55b" shape-rendering="crispEdges"/>
<rect x="552.0" y="473" width="7" height="10" fill="#63a55b" shape-rendering="crispEdges"/>
<line x1="563.5" x2="563.5" y1="470" y2="504" stroke="#63a55b" shape-rendering="crispEdges"/>
<rect x="560.0" y="476" width="7" height="5" fill="#63a55b" shape-rendering="crispEdges"/>
<line x1="571.5" x2="571.5" y1="457" y2="469" stroke="#d6423a" shape-rendering="crispEdges"/>
<line x1="571.5" x2="571.5" y1="486" y2="492" stroke="#d6423a" shape-rendering="crispEdges"/>
<rect x="568.5" y="469.5" width="6" height="16" fill="#fff" stroke="#d6423a" stroke-width="1" shape-rendering="crispEdges"/>
<line x1="579.5" x2="579.5" y1="451" y2="463" stroke="#d6423a" shape-rendering="crispEdges"/>
<line x1="579.5" x2="579.5" y1="467" y2="475" stroke="#d6423a" shape-rendering="crispEdges"/>
<rect x="576.5" y="463.5" width="6" height="3" fill="#fff" stroke="#d6423a" stroke-width="1" shape-rendering="crispEdges"/>
<line x1="587.5" x2="587.5" y1="436" y2="443" stroke="#d6423a" shape-rendering="crispEdges"/>
<line x1="587.5" x2="587.5" y1="462" y2="469" stroke="#d6423a" shape-rendering="crispEdges"/>
<rect x="584.5" y="443.5" width="6" height="18" fill="#fff" stroke="#d6423a" stroke-width="1" shape-rendering="crispEdges"/>
<line x1="595.5" x2="595.5" y1="421" y2="434" stroke="#d6423a" shape-rendering="crispEdges"/>
<line x1="595.5" x2="595.5" y1="445" y2="468" stroke="#d6423a" shape-rendering="crispEdges"/>
<rect x="592.5" y="434.5" width="6" height="10" fill="#fff" stroke="#d6423a" stroke-width="1" shape-rendering="crispEdges"/>
<line x1="603.5" x2="603.5" y1="367" y2="405" stroke="#d6423a" shape-rendering="crispEdges"/>
<rect x="600.5" y="405.5" width="6" height="33" fill="#fff" stroke="#d6423a" stroke-width="1" shape-rendering="crispEdges"/>
<line x1="611.5" x2="611.5" y1="366" y2="370" stroke="#d6423a" shape-rendering="crispEdges"/>
<line x1="611.5" x2="611.5" y1="405" y2="418" stroke="#d6423a" shape-rendering="crispEdges"/>
<rect x="608.5" y="370.5" width="6" height="34" fill="#fff" stroke="#d6423a" stroke-width="1" shape-rendering="crispEdges"/>
<line x1="619.5" x2="619.5" y1="331" y2="333" stroke="#d6423a" shape-rendering="crispEdges"/>
<line x1="619.5" x2="619.5" y1="371" y2="387" stroke="#d6423a" shape-rendering="crispEdges"/>
<rect x="616.5" y="333.5" width="6" height="37" fill="#fff" stroke="#d6423a" stroke-width="1" shape-rendering="crispEdges"/>
<line x1="627.5" x2="627.5" y1="309" y2="332" stroke="#d6423a" shape-rendering="crispEdges"/>
<line x1="627.5" x2="627.5" y1="334" y2="339" stroke="#d6423a" shape-rendering="crispEdges"/>
<rect x="624.5" y="332.5" width="6" height="1" fill="#fff" stroke="#d6423a" stroke-width="1" shape-rendering="crispEdges"/>
<line x1="635.5" x2="635.5" y1="285" y2="291" stroke="#d6423a" shape-rendering="crispEdges"/>
<rect x="632.5" y="291.5" width="6" height="40" fill="#fff" stroke="#d6423a" stroke-width="1" shape-rendering="crispEdges"/>
<line x1="643.5" x2="643.5" y1="286" y2="326" stroke="#63a55b" shape-rendering="crispEdges"/>
<rect x="640.0" y="294" width="7" height="25" fill="#63a55b" shape-rendering="crispEdges"/>
<line x1="651.5" x2="651.5" y1="301" y2="311" stroke="#d6423a" shape-rendering="crispEdges"/>
<line x1="651.5" x2="651.5" y1="322" y2="336" stroke="#d6423a" shape-rendering="crispEdges"/>
<rect x="648.5" y="311.5" width="6" height="10" fill="#fff" stroke="#d6423a" stroke-width="1" shape-rendering="crispEdges"/>
<line x1="659.5" x2="659.5" y1="302" y2="327" stroke="#63a55b" shape-rendering="crispEdges"/>
<rect x="656.0" y="311" width="7" height="7" fill="#63a55b" shape-rendering="crispEdges"/>
<line x1="667.5" x2="667.5" y1="285" y2="313" stroke="#d6423a" shape-rendering="crispEdges"/>
<line x1="667.5" x2="667.5" y1="319" y2="320" stroke="#d6423a" shape-rendering="crispEdges"/>
<rect x="664.5" y="313.5" width="6" height="5" fill="#fff" stroke="#d6423a" stroke-width="1" shape-rendering="crispEdges"/>
<line x1="675.5" x2="675.5" y1="278" y2="288" stroke="#d6423a" shape-rendering="crispEdges"/>
<line x1="675.5" x2="675.5" y1="313" y2="314" stroke="#d6423a" shape-rendering="crispEdges"/>
<rect x="672.5" y="288.5" width="6" height="24" fill="#fff" stroke="#d6423a" stroke-width="1" shape-rendering="crispEdges"/>
<line x1="683.5" x2="683.5" y1="286" y2="332" stroke="#63a55b" shape-rendering="crispEdges"/>
<rect x="680.0" y="296" width="7" height="32" fill="#63a55b" shape-rendering="crispEdges"/>
<line x1="691.5" x2="691.5" y1="317" y2="368" stroke="#63a55b" shape-rendering="crispEdges"/>
<rect x="688.0" y="329" width="7" height="26" fill="#63a55b" shape-rendering="crispEdges"/>
<line x1="699.5" x2="699.5" y1="346" y2="353" stroke="#d6423a" shape-rendering="crispEdges"/>
<line x1="699.5" x2="699.5" y1="354" y2="391" stroke="#d6423a" shape-rendering="crispEdges"/>
<rect x="696.0" y="353" width="7" height="1" fill="#d6423a" shape-rendering="crispEdges"/>
<line x1="707.5" x2="707.5" y1="344" y2="393" stroke="#63a55b" shape-rendering="crispEdges"/>
<rect x="704.0" y="355" width="7" height="38" fill="#63a55b" shape-rendering="crispEdges"/>
<line x1="715.5" x2="715.5" y1="380" y2="464" stroke="#63a55b" shape-rendering="crispEdges"/>
<rect x="712.0" y="392" width="7" height="67" fill="#63a55b" shape-rendering="crispEdges"/>
<line x1="723.5" x2="723.5" y1="443" y2="456" stroke="#d6423a" shape-rendering="crispEdges"/>
<line x1="723.5" x2="723.5" y1="463" y2="481" stroke="#d6423a" shape-rendering="crispEdges"/>
<rect x="720.5" y="456.5" width="6" height="6" fill="#fff" stroke="#d6423a" stroke-width="1" shape-rendering="crispEdges"/>
<line x1="731.5" x2="731.5" y1="427" y2="570" stroke="#63a55b" shape-rendering="crispEdges"/>
<rect x="728.0" y="459" width="7" height="101" fill="#63a55b" shape-rendering="crispEdges"/>
<line x1="739.5" x2="739.5" y1="525" y2="589" stroke="#63a55b" shape-rendering="crispEdges"/>
<rect x="736.0" y="562" width="7" height="10" fill="#63a55b" shape-rendering="crispEdges"/>
<line x1="747.5" x2="747.5" y1="556" y2="629" stroke="#63a55b" shape-rendering="crispEdges"/>
<rect x="744.0" y="577" width="7" height="49" fill="#63a55b" shape-rendering="crispEdges"/>
<line x1="755.5" x2="755.5" y1="519" y2="523" stroke="#d6423a" shape-rendering="crispEdges"/>
<rect x="752.5" y="523.5" width="6" height="104" fill="#fff" stroke="#d6423a" stroke-width="1" shape-rendering="crispEdges"/>
<line x1="763.5" x2="763.5" y1="457" y2="475" stroke="#d6423a" shape-rendering="crispEdges"/>
<line x1="763.5" x2="763.5" y1="529" y2="535" stroke="#d6423a" shape-rendering="crispEdges"/>
<rect x="760.5" y="475.5" width="6" height="53" fill="#fff" stroke="#d6423a" stroke-width="1" shape-rendering="crispEdges"/>
<line x1="771.5" x2="771.5" y1="468" y2="512" stroke="#63a55b" shape-rendering="crispEdges"/>
<rect x="768.0" y="477" width="7" height="33" fill="#63a55b" shape-rendering="crispEdges"/>
<line x1="779.5" x2="779.5" y1="472" y2="490" stroke="#d6423a" shape-rendering="crispEdges"/>
<line x1="779.5" x2="779.5" y1="510" y2="515" stroke="#d6423a" shape-rendering="crispEdges"/>
<rect x="776.5" y="490.5" width="6" height="19" fill="#fff" stroke="#d6423a" stroke-width="1" shape-rendering="crispEdges"/>
<line x1="787.5" x2="787.5" y1="464" y2="469" stroke="#d6423a" shape-rendering="crispEdges"/>
<line x1="787.5" x2="787.5" y1="492" y2="495" stroke="#d6423a" shape-rendering="crispEdges"/>
<rect x="784.5" y="469.5" width="6" height="22" fill="#fff" stroke="#d6423a" stroke-width="1" shape-rendering="crispEdges"/>
<polyline points="91.4,232.4 123.4,238.7 163.4,246.5 203.4,253.5 243.4,261.3 283.4,267.2 298.5,271.2 345.6,278.2 392.6,281.1 420.9,284.1 440,287.6 465.6,294 491.2,302.5 516.8,310.4 542.4,317.8 567.9,326.3 593.5,332.7 619.1,339.6 647.1,344.6 670.6,348.4 694.1,350 717.6,351.4 741.2,354 764.7,357.1 787,358.5" fill="none" stroke="#ff00ff" stroke-width="1" stroke-linejoin="round" shape-rendering="crispEdges"/>
<polyline points="91.1,362.5 106.9,356.6 117.8,353.8 132,348.5 146.2,339.8 163.7,328.6 179,320.5 194.3,313.3 207.4,309.2 220.5,304.8 235.8,303.3 251.1,298.3 270.8,288.9 285,279 298.5,270.7 322,261.3 340.9,252.4 350.3,250.5 373.8,238.7 392.6,226.5 411.5,217.5 420,215.4 425.6,213.6 431,212.4 446,212.4 451,213.6 456.7,215.2 470.5,217 484.3,222.1 498,227 511.8,232 524,237 536.3,242 548,250.1 561.1,260.4 578.6,272.6 596.1,282.5 611.4,288.4 624.5,291 635.3,291.6 658.8,297.8 670.6,302.9 689.4,311.9 703.5,316.6 722.4,327.6 736.5,340.6 750.6,354.2 764.7,366.5 778.8,379.4 786.6,385.3" fill="none" stroke="#000" stroke-width="1" stroke-linejoin="round" shape-rendering="crispEdges"/>
<line x1="87" x2="915" y1="468.5" y2="468.5" stroke="#0f86ff" stroke-width="1" stroke-dasharray="3 3" shape-rendering="crispEdges"/>
<path d="M272 110.5h7M275.5 109v4" stroke="#000" stroke-width="1" shape-rendering="crispEdges"/>
<text x="280.5" y="107" class="hl" fill="#d6423a">1.4139</text>
<path d="M752 631.5h7M755.5 629v4" stroke="#000" stroke-width="1" shape-rendering="crispEdges"/>
<text x="760.5" y="643.2" class="hl" fill="#6aa556">1.3481</text>
<line x1="91.5" x2="91.5" y1="768" y2="796" stroke="#d6423a" shape-rendering="crispEdges"/>
<line x1="99.5" x2="99.5" y1="780" y2="796" stroke="#d6423a" shape-rendering="crispEdges"/>
<line x1="107.5" x2="107.5" y1="788" y2="796" stroke="#d6423a" shape-rendering="crispEdges"/>
<line x1="115.5" x2="115.5" y1="795" y2="797" stroke="#63a55b" shape-rendering="crispEdges"/>
<line x1="123.5" x2="123.5" y1="782" y2="796" stroke="#d6423a" shape-rendering="crispEdges"/>
<line x1="131.5" x2="131.5" y1="784" y2="796" stroke="#d6423a" shape-rendering="crispEdges"/>
<line x1="139.5" x2="139.5" y1="778" y2="796" stroke="#d6423a" shape-rendering="crispEdges"/>
<line x1="147.5" x2="147.5" y1="777" y2="796" stroke="#d6423a" shape-rendering="crispEdges"/>
<line x1="155.5" x2="155.5" y1="781" y2="796" stroke="#d6423a" shape-rendering="crispEdges"/>
<line x1="163.5" x2="163.5" y1="783" y2="796" stroke="#d6423a" shape-rendering="crispEdges"/>
<line x1="171.5" x2="171.5" y1="795" y2="798" stroke="#63a55b" shape-rendering="crispEdges"/>
<line x1="179.5" x2="179.5" y1="795" y2="803" stroke="#63a55b" shape-rendering="crispEdges"/>
<line x1="187.5" x2="187.5" y1="795" y2="812" stroke="#63a55b" shape-rendering="crispEdges"/>
<line x1="195.5" x2="195.5" y1="795" y2="825" stroke="#63a55b" shape-rendering="crispEdges"/>
<line x1="203.5" x2="203.5" y1="795" y2="832" stroke="#63a55b" shape-rendering="crispEdges"/>
<line x1="211.5" x2="211.5" y1="795" y2="832" stroke="#63a55b" shape-rendering="crispEdges"/>
<line x1="219.5" x2="219.5" y1="795" y2="833" stroke="#63a55b" shape-rendering="crispEdges"/>
<line x1="227.5" x2="227.5" y1="795" y2="844" stroke="#63a55b" shape-rendering="crispEdges"/>
<line x1="235.5" x2="235.5" y1="795" y2="847" stroke="#63a55b" shape-rendering="crispEdges"/>
<line x1="243.5" x2="243.5" y1="795" y2="833" stroke="#63a55b" shape-rendering="crispEdges"/>
<line x1="251.5" x2="251.5" y1="795" y2="817" stroke="#63a55b" shape-rendering="crispEdges"/>
<line x1="259.5" x2="259.5" y1="793" y2="796" stroke="#d6423a" shape-rendering="crispEdges"/>
<line x1="267.5" x2="267.5" y1="770" y2="796" stroke="#d6423a" shape-rendering="crispEdges"/>
<line x1="275.5" x2="275.5" y1="759" y2="796" stroke="#d6423a" shape-rendering="crispEdges"/>
<line x1="283.5" x2="283.5" y1="752" y2="796" stroke="#d6423a" shape-rendering="crispEdges"/>
<line x1="291.5" x2="291.5" y1="776" y2="796" stroke="#d6423a" shape-rendering="crispEdges"/>
<line x1="299.5" x2="299.5" y1="795" y2="798" stroke="#63a55b" shape-rendering="crispEdges"/>
<line x1="307.5" x2="307.5" y1="795" y2="811" stroke="#63a55b" shape-rendering="crispEdges"/>
<line x1="315.5" x2="315.5" y1="795" y2="821" stroke="#63a55b" shape-rendering="crispEdges"/>
<line x1="323.5" x2="323.5" y1="795" y2="817" stroke="#63a55b" shape-rendering="crispEdges"/>
<line x1="331.5" x2="331.5" y1="795" y2="817" stroke="#63a55b" shape-rendering="crispEdges"/>
<line x1="339.5" x2="339.5" y1="795" y2="808" stroke="#63a55b" shape-rendering="crispEdges"/>
<line x1="347.5" x2="347.5" y1="795" y2="820" stroke="#63a55b" shape-rendering="crispEdges"/>
<line x1="355.5" x2="355.5" y1="795" y2="808" stroke="#63a55b" shape-rendering="crispEdges"/>
<line x1="363.5" x2="363.5" y1="789" y2="796" stroke="#d6423a" shape-rendering="crispEdges"/>
<line x1="371.5" x2="371.5" y1="778" y2="796" stroke="#d6423a" shape-rendering="crispEdges"/>
<line x1="379.5" x2="379.5" y1="772" y2="796" stroke="#d6423a" shape-rendering="crispEdges"/>
<line x1="387.5" x2="387.5" y1="775" y2="796" stroke="#d6423a" shape-rendering="crispEdges"/>
<line x1="395.5" x2="395.5" y1="794" y2="796" stroke="#d6423a" shape-rendering="crispEdges"/>
<line x1="403.5" x2="403.5" y1="795" y2="808" stroke="#63a55b" shape-rendering="crispEdges"/>
<line x1="411.5" x2="411.5" y1="795" y2="831" stroke="#63a55b" shape-rendering="crispEdges"/>
<line x1="419.5" x2="419.5" y1="795" y2="833" stroke="#63a55b" shape-rendering="crispEdges"/>
<line x1="427.5" x2="427.5" y1="795" y2="840" stroke="#63a55b" shape-rendering="crispEdges"/>
<line x1="435.5" x2="435.5" y1="795" y2="844" stroke="#63a55b" shape-rendering="crispEdges"/>
<line x1="443.5" x2="443.5" y1="795" y2="839" stroke="#63a55b" shape-rendering="crispEdges"/>
<line x1="451.5" x2="451.5" y1="795" y2="867" stroke="#63a55b" shape-rendering="crispEdges"/>
<line x1="459.5" x2="459.5" y1="795" y2="866" stroke="#63a55b" shape-rendering="crispEdges"/>
<line x1="467.5" x2="467.5" y1="795" y2="860" stroke="#63a55b" shape-rendering="crispEdges"/>
<line x1="475.5" x2="475.5" y1="795" y2="864" stroke="#63a55b" shape-rendering="crispEdges"/>
<line x1="483.5" x2="483.5" y1="795" y2="863" stroke="#63a55b" shape-rendering="crispEdges"/>
<line x1="491.5" x2="491.5" y1="795" y2="854" stroke="#63a55b" shape-rendering="crispEdges"/>
<line x1="499.5" x2="499.5" y1="795" y2="841" stroke="#63a55b" shape-rendering="crispEdges"/>
<line x1="507.5" x2="507.5" y1="795" y2="830" stroke="#63a55b" shape-rendering="crispEdges"/>
<line x1="515.5" x2="515.5" y1="795" y2="809" stroke="#63a55b" shape-rendering="crispEdges"/>
<line x1="523.5" x2="523.5" y1="794" y2="796" stroke="#d6423a" shape-rendering="crispEdges"/>
<line x1="531.5" x2="531.5" y1="776" y2="796" stroke="#d6423a" shape-rendering="crispEdges"/>
<line x1="539.5" x2="539.5" y1="779" y2="796" stroke="#d6423a" shape-rendering="crispEdges"/>
<line x1="547.5" x2="547.5" y1="795" y2="797" stroke="#63a55b" shape-rendering="crispEdges"/>
<line x1="555.5" x2="555.5" y1="795" y2="806" stroke="#63a55b" shape-rendering="crispEdges"/>
<line x1="563.5" x2="563.5" y1="795" y2="805" stroke="#63a55b" shape-rendering="crispEdges"/>
<line x1="571.5" x2="571.5" y1="795" y2="797" stroke="#63a55b" shape-rendering="crispEdges"/>
<line x1="579.5" x2="579.5" y1="785" y2="796" stroke="#d6423a" shape-rendering="crispEdges"/>
<line x1="587.5" x2="587.5" y1="770" y2="796" stroke="#d6423a" shape-rendering="crispEdges"/>
<line x1="595.5" x2="595.5" y1="758" y2="796" stroke="#d6423a" shape-rendering="crispEdges"/>
<line x1="603.5" x2="603.5" y1="742" y2="796" stroke="#d6423a" shape-rendering="crispEdges"/>
<line x1="611.5" x2="611.5" y1="724" y2="796" stroke="#d6423a" shape-rendering="crispEdges"/>
<line x1="619.5" x2="619.5" y1="706" y2="796" stroke="#d6423a" shape-rendering="crispEdges"/>
<line x1="627.5" x2="627.5" y1="702" y2="796" stroke="#d6423a" shape-rendering="crispEdges"/>
<line x1="635.5" x2="635.5" y1="695" y2="796" stroke="#d6423a" shape-rendering="crispEdges"/>
<line x1="643.5" x2="643.5" y1="707" y2="796" stroke="#d6423a" shape-rendering="crispEdges"/>
<line x1="651.5" x2="651.5" y1="720" y2="796" stroke="#d6423a" shape-rendering="crispEdges"/>
<line x1="659.5" x2="659.5" y1="736" y2="796" stroke="#d6423a" shape-rendering="crispEdges"/>
<line x1="667.5" x2="667.5" y1="749" y2="796" stroke="#d6423a" shape-rendering="crispEdges"/>
<line x1="675.5" x2="675.5" y1="753" y2="796" stroke="#d6423a" shape-rendering="crispEdges"/>
<line x1="683.5" x2="683.5" y1="774" y2="796" stroke="#d6423a" shape-rendering="crispEdges"/>
<line x1="691.5" x2="691.5" y1="795" y2="798" stroke="#63a55b" shape-rendering="crispEdges"/>
<line x1="699.5" x2="699.5" y1="795" y2="812" stroke="#63a55b" shape-rendering="crispEdges"/>
<line x1="707.5" x2="707.5" y1="795" y2="832" stroke="#63a55b" shape-rendering="crispEdges"/>
<line x1="715.5" x2="715.5" y1="795" y2="862" stroke="#63a55b" shape-rendering="crispEdges"/>
<line x1="723.5" x2="723.5" y1="795" y2="872" stroke="#63a55b" shape-rendering="crispEdges"/>
<line x1="731.5" x2="731.5" y1="795" y2="906" stroke="#63a55b" shape-rendering="crispEdges"/>
<line x1="739.5" x2="739.5" y1="795" y2="917" stroke="#63a55b" shape-rendering="crispEdges"/>
<line x1="747.5" x2="747.5" y1="795" y2="927" stroke="#63a55b" shape-rendering="crispEdges"/>
<line x1="755.5" x2="755.5" y1="795" y2="886" stroke="#63a55b" shape-rendering="crispEdges"/>
<line x1="763.5" x2="763.5" y1="795" y2="836" stroke="#63a55b" shape-rendering="crispEdges"/>
<line x1="771.5" x2="771.5" y1="795" y2="814" stroke="#63a55b" shape-rendering="crispEdges"/>
<line x1="779.5" x2="779.5" y1="792" y2="796" stroke="#d6423a" shape-rendering="crispEdges"/>
<line x1="787.5" x2="787.5" y1="768" y2="796" stroke="#d6423a" shape-rendering="crispEdges"/>
<polyline points="91.5,757.4 99.5,755 107.5,754.8 115.5,755 123.5,753.5 131.5,752.2 139.5,750.1 147.5,747.7 155.5,746.1 163.5,744.3 171.5,745.1 179.5,746.1 187.5,748.2 195.5,751.6 203.5,756.1 211.5,760.3 219.5,765.5 227.5,771.8 235.5,777.9 243.5,782.6 251.5,785.2 259.5,785.2 267.5,782.3 275.5,777.1 283.5,772.1 291.5,770 299.5,770.5 307.5,772.6 315.5,775.5 323.5,778.4 331.5,780.5 339.5,782.3 347.5,785.2 355.5,786.5 363.5,785.7 371.5,783.1 379.5,781 387.5,778.7 395.5,778.7 403.5,780.5 411.5,785 419.5,789.7 427.5,794.9 435.5,800.9 443.5,806.7 451.5,815.9 459.5,824.6 467.5,831.6 475.5,839.5 483.5,848.2 491.5,855.2 499.5,861.8 507.5,866.3 515.5,867.6 523.5,867 531.5,865.2 539.5,863.4 547.5,863.5 555.5,865.4 563.5,866.3 571.5,866 579.5,864.9 587.5,861.8 595.5,857.5 603.5,851.2 611.5,840.7 619.5,828.5 627.5,815.2 635.5,803.5 643.5,793.6 651.5,785 659.5,778.8 667.5,773.1 675.5,768.8 683.5,766.6 691.5,766.6 699.5,767.7 707.5,771.1 715.5,778.8 723.5,790.1 731.5,801.5 739.5,818.6 747.5,835.6 755.5,847.5 763.5,852.7 771.5,855.5 779.5,854.1 787.5,851.2" fill="none" stroke="#0000a8" stroke-width="1" stroke-linejoin="round" shape-rendering="crispEdges"/>
<polyline points="91.5,744 99.5,747.7 107.5,751.1 115.5,755 123.5,747.4 131.5,745.9 139.5,741.4 147.5,738.3 155.5,738.8 163.5,739.3 171.5,745.6 179.5,749.5 187.5,756.1 195.5,766.1 203.5,774.7 211.5,779.2 219.5,783.9 227.5,795.7 235.5,803.3 243.5,800.7 251.5,796.8 259.5,783.6 267.5,768.7 275.5,758.7 283.5,752.4 291.5,760.8 299.5,770.5 307.5,779.2 315.5,788.4 323.5,788.4 331.5,791.2 339.5,788.6 347.5,796.8 355.5,793.1 363.5,782.3 371.5,774.5 379.5,770 387.5,768.2 395.5,776.6 403.5,789.1 411.5,803.3 419.5,809.3 427.5,817.7 435.5,823.8 443.5,826.9 451.5,851.8 459.5,859.7 467.5,863.1 475.5,873.6 483.5,882 491.5,885.4 499.5,884.6 507.5,883.6 515.5,875.4 523.5,866.3 531.5,856.3 539.5,856.3 547.5,864 555.5,870.6 563.5,871.4 571.5,866.3 579.5,860.3 587.5,850.4 595.5,839.3 603.5,822.8 611.5,803.8 619.5,784.5 627.5,773.7 635.5,756 643.5,751.8 651.5,749.2 659.5,750.6 667.5,750.9 675.5,748.1 683.5,755.5 691.5,767.4 699.5,776.5 707.5,791.6 715.5,814.3 723.5,829.9 731.5,858.3 739.5,879.7 747.5,901.8 755.5,892.4 763.5,872.6 771.5,863.5 779.5,852.7 787.5,838.7" fill="none" stroke="#000" stroke-width="1" stroke-linejoin="round" shape-rendering="crispEdges"/>
<line x1="260.5" x2="260.5" y1="928" y2="933" stroke="#dbe2ea" shape-rendering="crispEdges"/>
<text x="262.0" y="939.8" class="dt">2025/11</text>
<line x1="419.5" x2="419.5" y1="928" y2="933" stroke="#dbe2ea" shape-rendering="crispEdges"/>
<text x="421.0" y="939.8" class="dt">2025/12</text>
<line x1="595.5" x2="595.5" y1="928" y2="933" stroke="#dbe2ea" shape-rendering="crispEdges"/>
<text x="597.0" y="939.8" class="dt">2026/01</text>
<line x1="763.5" x2="763.5" y1="928" y2="933" stroke="#dbe2ea" shape-rendering="crispEdges"/>
<text x="765.0" y="939.8" class="dt">2026/02</text>
</svg>
<div id="lg">
<span style="left:88px;color:#111" class="cjl">美元加元</span>
<span style="left:135px;color:#ff7d00" class="cjl">【日线】</span>
<span style="left:215.5px;color:#111">MA1(50,0,200,0)</span>
<span style="left:313.5px;color:#111">MA50:1.3790</span>
<span style="left:396px;color:#0a0a9a">MA0:1.3687</span>
<span style="left:471.5px;color:#ff00ff">MA200:1.3825</span>
<span style="left:561.5px;color:#ff8a1c">MA0:1.3687</span>
</div>
<svg style="position:absolute;left:183px;top:26px" width="34" height="16" viewBox="0 0 34 16">
<circle cx="5.6" cy="11.3" r="4" fill="none" stroke="#ff8a10" stroke-width="0.85"/><path d="M1.6 11.3h8M5.6 7.3v8" stroke="#ff8a10" stroke-width="0.85"/>
<rect x="19.3" y="2.3" width="11" height="11.6" fill="#9a9a9a"/>
<rect x="18.7" y="1.7" width="11" height="11.6" fill="#fff" stroke="#000080" stroke-width="1.2"/>
<path d="M19.5 8.2 L22.4 4.4 L24.6 6.2 L25.6 5.2 L29 5.4" fill="none" stroke="#ff0000" stroke-width="1"/>
<path d="M19.5 11.6 L22.4 7.8 L24.6 9.8 L26 8.2 L29 8.2" fill="none" stroke="#0000ff" stroke-width="1"/>
</svg>
<div id="ml">
<span style="left:88.5px;color:#111">MACD(13,8,9) DIFF:-0.0021</span>
<span style="left:250px;color:#0a0a9a">DEA:-0.0027</span>
<span style="left:328px;color:#ff00ff">MACD:0.0012</span>
</div>
<svg style="position:absolute;left:17px;top:671px" width="16" height="16" viewBox="0 0 16 16">
<circle cx="8" cy="7.8" r="3.4" fill="#fff" stroke="#000" stroke-width="1"/><circle cx="8" cy="7.8" r="1.7" fill="#f00"/>
<path d="M13.30 7.80L15.10 7.80M11.75 11.55L13.02 12.82M8.00 13.10L8.00 14.90M4.25 11.55L2.98 12.82M2.70 7.80L0.90 7.80M4.25 4.05L2.98 2.78M8.00 2.50L8.00 0.70M11.75 4.05L13.02 2.78" stroke="#f00" stroke-width="1.1" fill="none"/>
</svg>
<div class="hl1" style="left:16px;top:927px;width:899px"></div>
<div id="pd">日线<b>▲</b></div>
<div class="hl1" style="left:95px;top:944px;width:820px;background:#edf1f5"></div>
<div class="hl1" style="left:16px;top:947px;width:899px;background:#c8d2dc"></div>
<div id="bt">
<div class="t on" style="left:16px;width:39px">指标</div>
<div class="t cj2" style="left:56px;width:39px">模板</div>
<div class="t vip" style="left:96px;width:58px">VIP指标</div>
<div class="t m" style="left:155px;width:26px">MA</div>
<div class="t m" style="left:182px;width:40px">MACD</div>
<div class="t m" style="left:223px;width:39px">BOLL</div>
<div class="t m" style="left:263px;width:33px">VOL</div>
<div class="t m" style="left:297px;width:39px">BIAS</div>
<div class="t m" style="left:337px;width:33px">CCI</div>
<div class="t m" style="left:371px;width:33px">KDJ</div>
<div class="t m" style="left:405px;width:39px">LW&amp;</div>
<div class="t m" style="left:445px;width:31px">RSI</div>
<div class="t m" style="left:477px;width:27px">CR</div>
<div class="t m" style="left:505px;width:33px">PSY</div>
<div class="t cj2" style="left:539px;width:41px">设置</div>
</div>
<div class="hl1" style="left:0;top:962px;width:915px;height:2px;background:#c8d0d8"></div>
<div class="hl1" style="left:0;top:972px;width:915px;background:#c8d0d8"></div>
<div class="hl1" style="left:42px;top:972px;width:1px;height:5px;background:#c8d0d8"></div>
<div id="scr"></div>
<div id="wm">FX678</div>
</body></html>
